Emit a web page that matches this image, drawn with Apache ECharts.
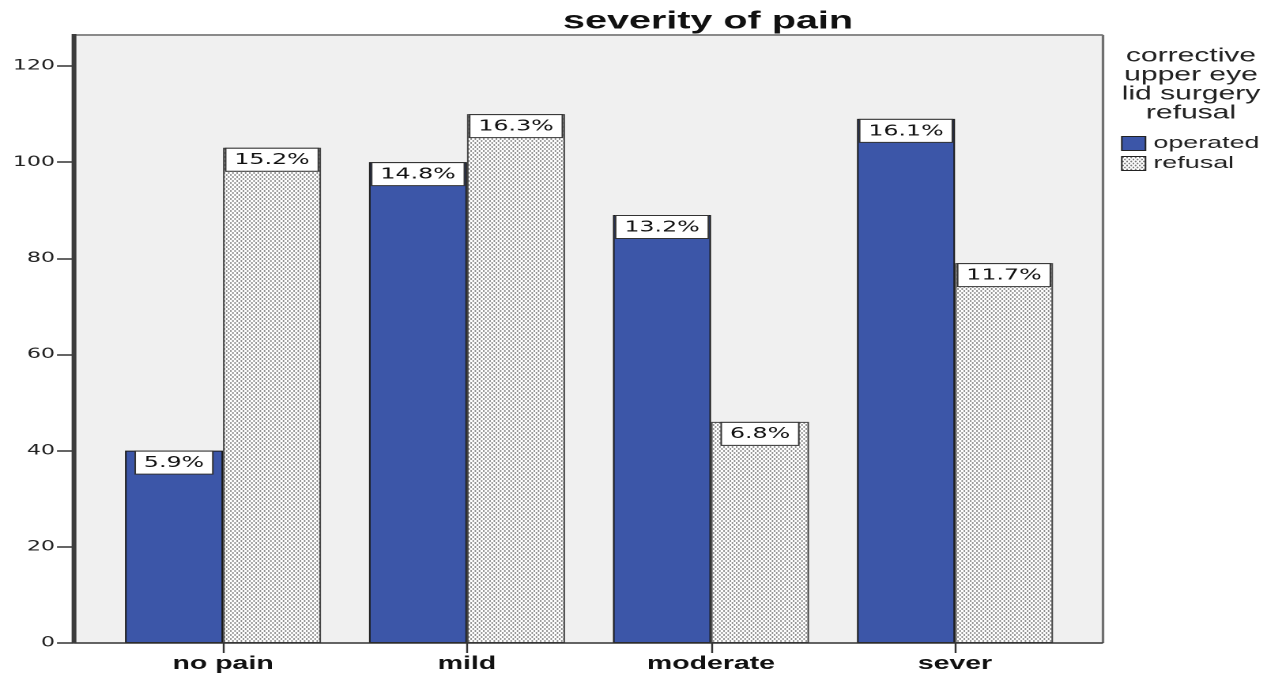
<!DOCTYPE html>
<html>
<head>
<meta charset="utf-8">
<script src="https://cdn.jsdelivr.net/npm/echarts@6/dist/echarts.min.js"></script>
<style>
html, body { margin: 0; padding: 0; background: #ffffff; overflow: hidden; }
#wrap { width: 1282px; height: 674px; overflow: hidden; position: relative; }
#chart { width: 811px; height: 674px; transform-origin: 0 0; }
</style>
</head>
<body>
<div id="wrap"><div id="chart"></div></div>
<script>
// ---- data ----
const chartTitle = 'severity of pain';
const legendTitle = 'corrective\nupper eye\nlid surgery\nrefusal';
const categories = ['no pain', 'mild', 'moderate', 'sever'];
const seriesNames = ['operated', 'refusal'];
const operated = [40, 100, 89, 109];
const refusal = [103, 110, 46, 79];
const yMin = 0;
const yMax = 120;
const yInterval = 20;

// The reference picture is stretched horizontally; reproduce that by laying the
// chart out in a narrower box and scaling it along x.
const W = 811, H = 674;
const SX = 1282 / W;
document.getElementById('chart').style.transform = 'scaleX(' + SX + ')';
const px = x => x / SX;   // reference x -> layout x

const total = operated.concat(refusal).reduce((a, b) => a + b, 0);
const pct = v => (v / total * 100).toFixed(1) + '%';

// dotted fill for "refusal"
function dotPattern() {
  const R = 4;                 // canvas pixels per layout pixel
  const tw = 8, th = 4;        // tile in layout px
  const c = document.createElement('canvas');
  c.width = tw * R; c.height = th * R;
  const g = c.getContext('2d');
  g.fillStyle = '#ffffff';
  g.fillRect(0, 0, c.width, c.height);
  g.fillStyle = '#7a7a7a';
  const pts = [];
  for (let i = 0; i < 3; i++) {
    pts.push([0.7 + i * 8 / 3, 1]);
    pts.push([0.7 + 4 / 3 + i * 8 / 3, 3]);
  }
  pts.forEach(p => {
    g.beginPath();
    g.ellipse(p[0] * R, p[1] * R, 0.55 * R, 0.85 * R, 0, 0, Math.PI * 2);
    g.fill();
  });
  return { image: c, repeat: 'repeat', scaleX: 1 / R, scaleY: 1 / R };
}
const pattern = dotPattern();
const blue = '#3c56a8';

const chart = echarts.init(document.getElementById('chart'), null, {
  renderer: 'canvas', devicePixelRatio: 2, width: W, height: H
});

const frameL = px(74), frameR = px(1103), frameT = 35, frameB = 643;

const labelStyle = {
  show: true,
  position: 'insideTop',
  distance: 1,
  formatter: p => pct(p.value),
  fontFamily: 'DejaVu Sans',
  fontSize: 15,
  color: '#111',
  backgroundColor: '#ffffff',
  borderColor: '#333',
  borderWidth: 1,
  padding: [4, 5, 3, 5]
};

const option = {
  animation: false,
  backgroundColor: '#ffffff',
  title: [
    {
      text: chartTitle,
      left: px(708), top: 9, textAlign: 'center', padding: 0,
      textStyle: { fontFamily: 'Liberation Sans', fontWeight: 'bold', fontSize: 25, color: '#111' }
    },
    {
      text: legendTitle,
      left: px(1191), top: 47, textAlign: 'center', padding: 0,
      textStyle: { fontFamily: 'Liberation Sans', fontWeight: 'normal', fontSize: 19, lineHeight: 19, color: '#222' }
    }
  ],
  legend: {
    orient: 'vertical',
    left: px(1121), top: 135, padding: 0,
    icon: 'rect',
    itemWidth: 15, itemHeight: 14, itemGap: 3,
    itemStyle: { borderColor: '#222', borderWidth: 1 },
    textStyle: { fontFamily: 'Liberation Sans', fontSize: 17, color: '#222' },
    data: seriesNames
  },
  graphic: [
    { type: 'rect', z: -10, silent: true,
      shape: { x: frameL, y: frameT, width: frameR - frameL, height: frameB - frameT },
      style: { fill: '#f0f0f0' } },
    { type: 'line', z: 100, silent: true,
      shape: { x1: frameL, y1: frameT, x2: frameR, y2: frameT },
      style: { stroke: '#8a8a8a', lineWidth: 2 } },
    { type: 'line', z: 100, silent: true,
      shape: { x1: frameR, y1: frameT, x2: frameR, y2: frameB },
      style: { stroke: '#707070', lineWidth: 1.6 } },
    { type: 'line', z: 100, silent: true,
      shape: { x1: frameL, y1: frameB, x2: frameR, y2: frameB },
      style: { stroke: '#333', lineWidth: 1.5 } },
    { type: 'line', z: 100, silent: true,
      shape: { x1: frameL, y1: frameT - 1, x2: frameL, y2: frameB },
      style: { stroke: '#3c3c3c', lineWidth: 3 } }
  ],
  grid: {
    left: px(101), right: W - px(1077), top: 66, bottom: H - 643,
    containLabel: false
  },
  xAxis: {
    type: 'category',
    data: categories,
    axisLine: { show: false },
    axisTick: { show: true, alignWithLabel: true, length: 10, lineStyle: { color: '#333', width: 1.2 } },
    axisLabel: { margin: 12, fontFamily: 'Liberation Sans', fontWeight: 'bold', fontSize: 18, color: '#111' },
    splitLine: { show: false }
  },
  yAxis: {
    type: 'value',
    min: yMin, max: yMax, interval: yInterval,
    offset: px(101) - frameL,
    axisLine: { show: false },
    axisTick: { show: true, length: px(17), lineStyle: { color: '#333', width: 1.5 } },
    axisLabel: { margin: px(19), fontFamily: 'DejaVu Sans', fontSize: 14, color: '#222' },
    splitLine: { show: false }
  },
  series: [
    {
      name: seriesNames[0], type: 'bar', data: operated,
      barWidth: px(98), barGap: '0%',
      itemStyle: { color: blue, borderColor: '#1a1a1a', borderWidth: 1 },
      label: labelStyle
    },
    {
      name: seriesNames[1], type: 'bar', data: refusal,
      barWidth: px(98), barGap: '0%',
      itemStyle: { color: pattern, borderColor: '#444', borderWidth: 1 },
      label: labelStyle
    }
  ]
};
chart.setOption(option);
</script>
</body>
</html>
